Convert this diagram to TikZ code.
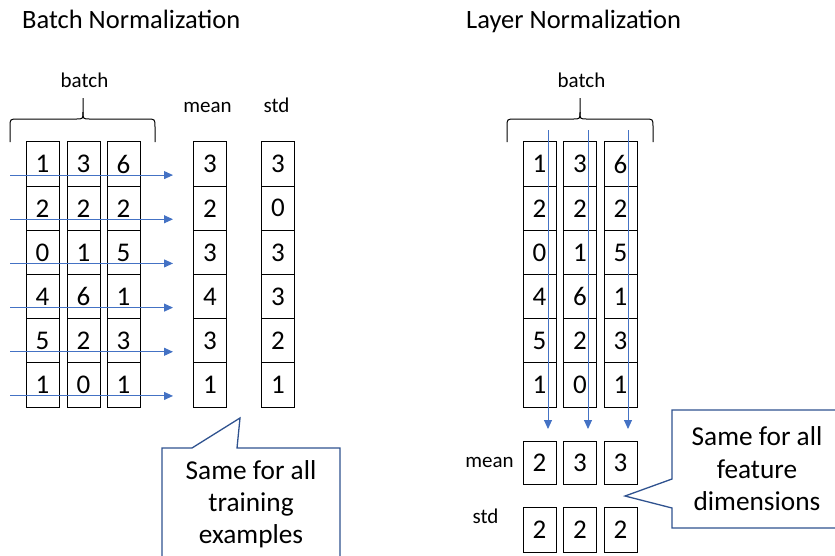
\documentclass[tikz,border=0pt]{standalone}
\usepackage{fontspec}
\setmainfont{Carlito}
\usetikzlibrary{arrows.meta}
\definecolor{arrowblue}{HTML}{4472C4}
\definecolor{calloutblue}{HTML}{2F528F}
\begin{document}
\begin{tikzpicture}[x=1pt,y=-1pt,
  cell/.style={draw=black,line width=1pt,minimum width=33pt,minimum height=44.2pt,inner sep=0pt,font=\fontsize{27}{30}\selectfont},
  lbl/.style={inner sep=0pt,font=\fontsize{21}{24}\selectfont,anchor=base},
  ttl/.style={inner sep=0pt,font=\fontsize{26.5}{30}\selectfont,anchor=base west},
  flow/.style={draw=arrowblue,line width=1pt,-{Triangle[length=9pt,width=8pt]}},
  bracepath/.style={draw=black,line width=1pt},
  callout/.style={draw=calloutblue,line width=1.3pt,fill=white,line join=miter},
  ctext/.style={inner sep=0pt,anchor=base,font=\fontsize{27.3}{32}\selectfont}
]
\useasboundingbox (0,0) rectangle (835,555);

% titles
\node[ttl] (t1) at (22,28) {Batch Normalization};
\node[ttl] (t2) at (466,28) {Layer Normalization};

% labels
\node[lbl] (lb1) at (84.5,87) {batch};
\node[lbl] (lmean) at (207.5,112) {mean};
\node[lbl] (lstd) at (276.5,112) {std};
\node[lbl] (lb2) at (581.5,87) {batch};
\node[lbl] (rmean) at (489.5,467) {mean};
\node[lbl] (rstd) at (485.5,523) {std};

% braces
\draw[bracepath] (10,142) -- (10,127) .. controls (10,119) .. (18,119) -- (76,119) .. controls (83,119) .. (83,112) -- (83,98);
\draw[bracepath] (155,142) -- (155,127) .. controls (155,119) .. (147,119) -- (90,119) .. controls (83,119) .. (83,112);
\draw[bracepath] (507,142) -- (507,127) .. controls (507,119) .. (515,119) -- (573,119) .. controls (580,119) .. (580,112) -- (580,98);
\draw[bracepath] (653,142) -- (653,127) .. controls (653,119) .. (645,119) -- (587,119) .. controls (580,119) .. (580,112);

% grids
\foreach \a/\b/\c/\m/\s [count=\r] in {1/3/6/3/3, 2/2/2/2/0, 0/1/5/3/3, 4/6/1/4/3, 5/2/3/3/2, 1/0/1/1/1} {
  \pgfmathsetmacro\yy{142+44.17*(\r-0.5)}
  \node[cell] (LA\r) at (42.5,\yy) {\a};
  \node[cell] (LB\r) at (83.5,\yy) {\b};
  \node[cell] (LC\r) at (123.5,\yy) {\c};
  \node[cell] (LM\r) at (210,\yy) {\m};
  \node[cell] (LS\r) at (278,\yy) {\s};
  \node[cell] (RA\r) at (539.5,\yy) {\a};
  \node[cell] (RB\r) at (580,\yy) {\b};
  \node[cell] (RC\r) at (620.5,\yy) {\c};
}

% right mean / std
\node[cell,minimum height=43pt] (RM1) at (539.5,462.5) {2};
\node[cell,minimum height=43pt] (RM2) at (580,462.5) {3};
\node[cell,minimum height=43pt] (RM3) at (620.5,462.5) {3};
\node[cell,minimum height=45pt] (RS1) at (539.5,529.5) {2};
\node[cell,minimum height=45pt] (RS2) at (580,529.5) {2};
\node[cell,minimum height=45pt] (RS3) at (620.5,529.5) {2};

% horizontal arrows (batch norm)
\foreach \r in {1,...,6} {
  \pgfmathsetmacro\yy{142+44.17*(\r-0.5)+11}
  \coordinate (hs\r) at (10,\yy);
  \coordinate (he\r) at (173,\yy);
  \draw[flow] (hs\r) -- (he\r);
}

% vertical arrows (layer norm)
\foreach \x [count=\i] in {548,588,628} {
  \coordinate (vs\i) at (\x,130);
  \coordinate (ve\i) at (\x,429);
  \draw[flow] (vs\i) -- (ve\i);
}

% callouts
\draw[callout] (162,448) -- (192,448) -- (240,418) -- (237,448) -- (340,448) -- (340,565) -- (162,565) -- cycle;
\node[ctext] (c1a) at (251,479) {Same for all};
\node[ctext] (c1b) at (251,511) {training};
\node[ctext] (c1c) at (251,543) {examples};

\draw[callout] (672,410) -- (845,410) -- (845,528) -- (672,528) -- (672,508) -- (625,496) -- (672,479) -- cycle;
\node[ctext] (c2a) at (757,445) {Same for all};
\node[ctext] (c2b) at (757,478) {feature};
\node[ctext] (c2c) at (757,510) {dimensions};
\end{tikzpicture}
\end{document}
